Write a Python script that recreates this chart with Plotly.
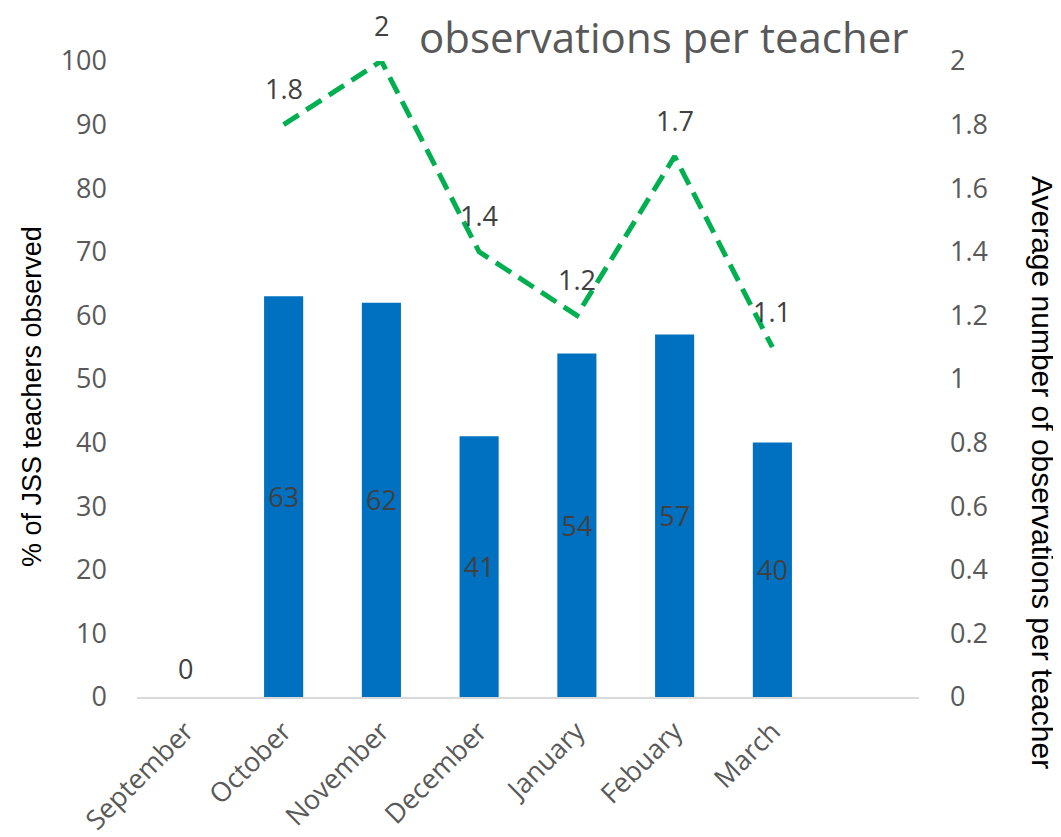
import plotly.graph_objects as go

months = ["September", "October", "November", "December", "January", "Febuary", "March"]
pct_observed = [0, 63, 62, 41, 54, 57, 40]
avg_obs = [None, 1.8, 2, 1.4, 1.2, 1.7, 1.1]
avg_labels = ["", "1.8", "2", "1.4", "1.2", "1.7", "1.1"]
left_ticks = list(range(0, 101, 10))
right_ticks = [0, 0.2, 0.4, 0.6, 0.8, 1, 1.2, 1.4, 1.6, 1.8, 2]

xpos = list(range(len(months)))
FONT = "Open Sans"

W, H = 1053, 829
L, R, T, B = 129, 142, 53, 140
PW, PH = W - L - R, H - T - B


def px(xs):
    return (xs - 8 - L) / PW


def py(ys):
    return (H - B - (ys - 8)) / PH


fig = go.Figure()
fig.add_trace(go.Bar(
    x=xpos, y=pct_observed, width=0.4,
    marker=dict(color="#0070C0", line=dict(width=0)),
    text=[str(v) if v != 0 else "" for v in pct_observed],
    textposition="inside",
    insidetextanchor="middle",
    textfont=dict(family=FONT, size=27, color="#404040"),
    constraintext="none", cliponaxis=False,
    hoverinfo="skip", yaxis="y",
))
fig.add_trace(go.Scatter(
    x=xpos, y=avg_obs, mode="lines",
    line=dict(color="#00B050", width=5, dash="18px,9px"),
    cliponaxis=False, yaxis="y2", hoverinfo="skip",
))

annotations = []
# zero-height bar label sits just above the axis
for xi, v in zip(xpos, pct_observed):
    if v == 0:
        annotations.append(dict(
            x=xi, y=v, xref="x", yref="y", text=str(v), showarrow=False,
            yshift=29, xanchor="center", yanchor="middle",
            font=dict(family=FONT, size=27, color="#404040"),
        ))
for xi, yi, lab in zip(xpos, avg_obs, avg_labels):
    if yi is None:
        continue
    annotations.append(dict(
        x=xi, y=yi, xref="x", yref="y2", text=lab, showarrow=False,
        yshift=36, xanchor="center", yanchor="middle",
        font=dict(family=FONT, size=27, color="#404040"),
    ))

annotations += [
    dict(text="observations per teacher", xref="paper", yref="paper",
         x=px(417), y=py(36), xanchor="left", yanchor="middle",
         showarrow=False, font=dict(family=FONT, size=42, color="#595959")),
    dict(text="% of JSS teachers observed", xref="paper", yref="paper",
         x=px(32), y=py(397), xanchor="center", yanchor="middle", textangle=-90,
         showarrow=False, font=dict(family="Liberation Sans", size=27, color="black")),
    dict(text="Average number of observations per teacher", xref="paper", yref="paper",
         x=px(1043), y=py(472), xanchor="center", yanchor="middle", textangle=90,
         showarrow=False, font=dict(family="Liberation Sans", size=30, color="black")),
]

fig.update_layout(
    width=W, height=H,
    margin=dict(l=L, r=R, t=T, b=B),
    paper_bgcolor="white", plot_bgcolor="white",
    showlegend=False,
    font=dict(family=FONT, color="#595959"),
    xaxis=dict(
        range=[-0.5, 7.5], tickmode="array", tickvals=xpos, ticktext=months,
        tickangle=-45, tickfont=dict(size=27, color="#595959"),
        showgrid=False, zeroline=False, showline=True, linecolor="#D9D9D9",
        linewidth=1.5, ticks="", automargin=False, ticklabelstandoff=6,
    ),
    yaxis=dict(
        range=[0, 100], tickvals=left_ticks, showgrid=False, zeroline=False,
        showline=False, ticks="", tickfont=dict(size=27, color="#595959"),
        ticklabelstandoff=29, automargin=False,
    ),
    yaxis2=dict(
        range=[0, 2], tickvals=right_ticks, overlaying="y", side="right",
        showgrid=False, zeroline=False, showline=False, ticks="",
        tickfont=dict(size=27, color="#595959"), ticklabelstandoff=30,
        automargin=False,
    ),
    annotations=annotations,
)

fig.write_html("out.html")
